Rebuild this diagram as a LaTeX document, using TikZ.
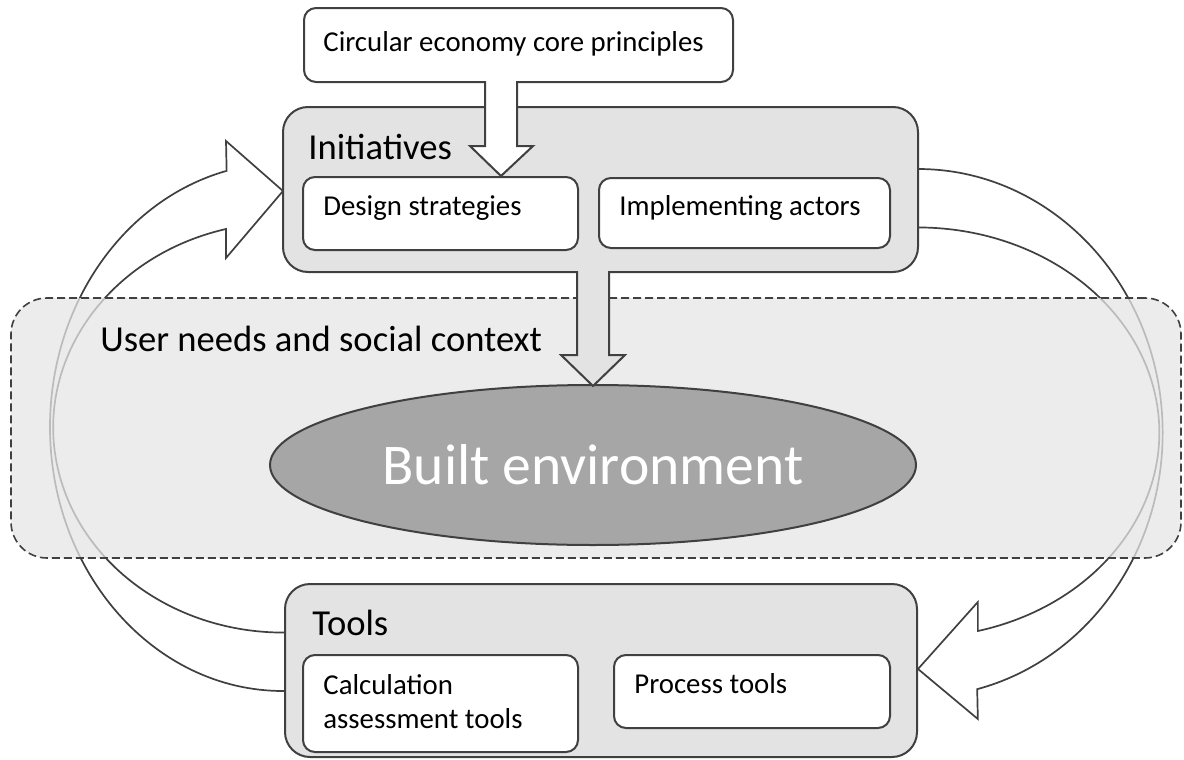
\documentclass[tikz,border=0pt]{standalone}
\usepackage{fontspec}
\setmainfont{Carlito}
\usetikzlibrary{shapes.geometric,fit}

\tikzset{
  panel/.style={draw=black!75, line width=1pt, fill=black!11, rounded corners=12.5pt},
  box/.style={draw=black!75, line width=1pt, fill=white, rounded corners=6pt},
  txt/.style={anchor=base west, font=\fontsize{14.4}{17}\selectfont},
  heading/.style={anchor=base west, font=\fontsize{18.3}{22}\selectfont},
  cyclearrow/.style={draw=black!75, line width=0.85pt, fill=white},
  blockarrow/.style={draw=black!75, line width=1pt, line join=miter},
}

% one of the two curved arrows, tail at the bottom, head at the top
\newcommand{\turnarrow}{(290,691) -- (283,691)
  arc[start angle=90, end angle=256, x radius=233, y radius=264]
  -- (226,141) -- (283,191) -- (226,258) -- (226,229)
  arc[start angle=255.6, end angle=90, x radius=230, y radius=205] -- (290,632.6) -- cycle}

\begin{document}
\begin{tikzpicture}[x=0.5pt,y=-0.5pt]
  \tikzstyle{every node}+=[inner sep=0pt]
  \useasboundingbox (0,0) rectangle (1184,760);

  % feedback loop
  \draw [cyclearrow] \turnarrow;
  \begin{scope}[shift={(918,0)}, xscale=1.05, shift={(-918,0)}]
    \draw [cyclearrow, rotate around={180:(600.5,430)}] \turnarrow;
  \end{scope}

  % social context band
  \node [fit={(11,298) (1181,558)}, draw=black!75, line width=0.8pt, dash pattern=on 4pt off 2pt,
         fill=black!10, fill opacity=0.75, rounded corners=18pt] (ctx) {};
  \node [heading] (ctxtext) at (100,351) {User needs and social context};

  \node [ellipse, draw=black!75, line width=1pt, fill=black!35, minimum width=323pt, minimum height=80pt,
         text=white, font=\fontsize{28.8}{34}\selectfont] (built) at (593,465) {Built environment};

  % principles
  \node [box, fit={(304,8) (733,82)}] (core) {};
  \node [txt] (coretext) at (323,51) {Circular economy core principles};

  % initiatives
  \node [panel, fit={(283,107) (918,272)}] (init) {};
  \node [heading] (inittext) at (308,159) {Initiatives};
  \node [box, fit={(303,177) (578,250)}] (design) {};
  \node [txt] (designtext) at (323,215) {Design strategies};
  \node [box, fit={(599,178) (890,248)}] (actors) {};
  \node [txt] (actorstext) at (619,215) {Implementing actors};

  % tools
  \node [panel, fit={(285,584) (917,757)}] (tools) {};
  \node [heading] (toolstext) at (312,635) {Tools};
  \node [box, fit={(303,655) (578,752)}] (calc) {};
  \node [txt, align=left] (calctext) at (323,728) {Calculation\\assessment tools};
  \node [box, fit={(614,655) (890,728)}] (proc) {};
  \node [txt] (proctext) at (634,693) {Process tools};

  % block arrows
  \draw [blockarrow, fill=white] (485,81) -- (485,146) -- (470,146) -- (501,176) -- (533,146) -- (517,146) -- (517,81);
  \draw [blockarrow, fill=black!11] (577,271) -- (577,355) -- (561,355) -- (593,386) -- (625,355) -- (609,355) -- (609,271);
\end{tikzpicture}
\end{document}
